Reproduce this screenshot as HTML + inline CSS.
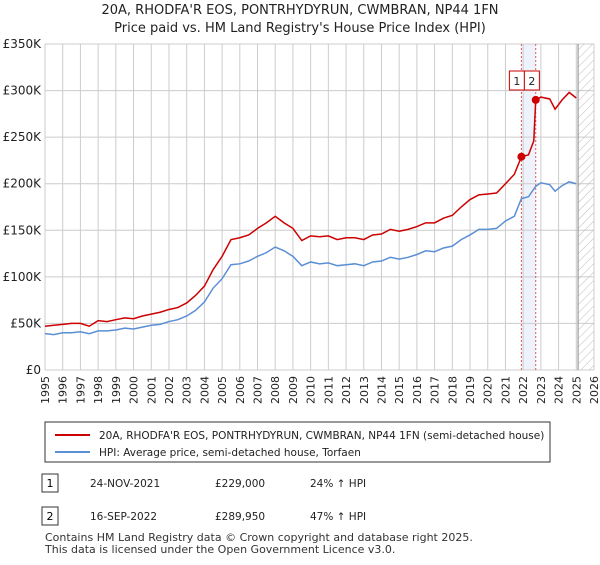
<!DOCTYPE html>
<html><head><meta charset="utf-8"><style>
body{margin:0;background:#fff;font-family:"Liberation Sans","DejaVu Sans",sans-serif;}
svg text{font-family:"DejaVu Sans","Liberation Sans",sans-serif;}
</style></head><body>
<svg id="c" width="600" height="560" xmlns="http://www.w3.org/2000/svg">
<defs><pattern id="hatch" width="6" height="6" patternUnits="userSpaceOnUse" patternTransform="rotate(45)"><line x1="0" y1="0" x2="0" y2="6" stroke="#bbb" stroke-width="1"/></pattern></defs>
<text x="300" y="14" text-anchor="middle" font-size="13" fill="#222">20A, RHODFA'R EOS, PONTRHYDYRUN, CWMBRAN, NP44 1FN</text>
<text x="300" y="32" text-anchor="middle" font-size="13" fill="#222">Price paid vs. HM Land Registry's House Price Index (HPI)</text>
<g id="grid"></g><g id="marks"></g><g id="axes"></g>
<rect x="45" y="422" width="505" height="40" fill="#fff" stroke="#333"/>
<line x1="55" y1="435" x2="90" y2="435" stroke="#cc0000" stroke-width="2"/>
<text x="99" y="439" font-size="10.5" fill="#222">20A, RHODFA'R EOS, PONTRHYDYRUN, CWMBRAN, NP44 1FN (semi-detached house)</text>
<line x1="55" y1="452" x2="90" y2="452" stroke="#5b8fd4" stroke-width="2"/>
<text x="99" y="456" font-size="10.5" fill="#222">HPI: Average price, semi-detached house, Torfaen</text>
<rect x="42" y="474" width="16" height="18" fill="#fff" stroke="#333"/>
<text x="50" y="487" font-size="11" text-anchor="middle">1</text>
<text x="90" y="487" font-size="10.5" fill="#222">24-NOV-2021</text>
<text x="215" y="487" font-size="10.5" fill="#222">£229,000</text>
<text x="310" y="487" font-size="10.5" fill="#222">24% ↑ HPI</text>
<rect x="42" y="507" width="16" height="18" fill="#fff" stroke="#333"/>
<text x="50" y="520" font-size="11" text-anchor="middle">2</text>
<text x="90" y="520" font-size="10.5" fill="#222">16-SEP-2022</text>
<text x="215" y="520" font-size="10.5" fill="#222">£289,950</text>
<text x="310" y="520" font-size="10.5" fill="#222">47% ↑ HPI</text>
<text x="45" y="541" font-size="11" fill="#333">Contains HM Land Registry data © Crown copyright and database right 2025.</text>
<text x="45" y="553" font-size="11" fill="#333">This data is licensed under the Open Government Licence v3.0.</text>
</svg>
<script>
const years=[1995,1995.5,1996,1996.5,1997,1997.5,1998,1998.5,1999,1999.5,2000,2000.5,2001,2001.5,2002,2002.5,2003,2003.5,2004,2004.5,2005,2005.5,2006,2006.5,2007,2007.5,2008,2008.5,2009,2009.5,2010,2010.5,2011,2011.5,2012,2012.5,2013,2013.5,2014,2014.5,2015,2015.5,2016,2016.5,2017,2017.5,2018,2018.5,2019,2019.5,2020,2020.5,2021,2021.5,2021.9,2022.3,2022.7,2023,2023.5,2023.8,2024.2,2024.6,2025.0];
const hpi=[39,38,40,40,41,39,42,42,43,45,44,46,48,49,52,54,58,64,73,88,98,113,114,117,122,126,132,128,122,112,116,114,115,112,113,114,112,116,117,121,119,121,124,128,127,131,133,140,145,151,151,152,160,165,184,186,197,201,199,192,198,202,200];
const redYears=[1995,1995.5,1996,1996.5,1997,1997.5,1998,1998.5,1999,1999.5,2000,2000.5,2001,2001.5,2002,2002.5,2003,2003.5,2004,2004.5,2005,2005.5,2006,2006.5,2007,2007.5,2008,2008.5,2009,2009.5,2010,2010.5,2011,2011.5,2012,2012.5,2013,2013.5,2014,2014.5,2015,2015.5,2016,2016.5,2017,2017.5,2018,2018.5,2019,2019.5,2020,2020.5,2021,2021.5,2021.9,2022.3,2022.6,2022.71,2023,2023.5,2023.8,2024.2,2024.6,2025.0];
const red=[47,48,49,50,50,47,53,52,54,56,55,58,60,62,65,67,72,80,90,108,122,140,142,145,152,158,165,158,152,139,144,143,144,140,142,142,140,145,146,151,149,151,154,158,158,163,166,175,183,188,189,190,200,210,229,231,246,290,293,291,280,290,298,292];
const saleYears=[2021.9,2022.71];
const salePrices=[229,289.95];
const saleLabels=["1","2"];
const yTicks=[0,50,100,150,200,250,300,350];
const yTickLabels=["£0","£50K","£100K","£150K","£200K","£250K","£300K","£350K"];
const xTicks=[1995,1996,1997,1998,1999,2000,2001,2002,2003,2004,2005,2006,2007,2008,2009,2010,2011,2012,2013,2014,2015,2016,2017,2018,2019,2020,2021,2022,2023,2024,2025,2026];

const NS="http://www.w3.org/2000/svg";
const X0=45,X1=594,Y0=370,Y1=44;
const xs=v=>X0+(v-1995)/(2026-1995)*(X1-X0);
const ys=v=>Y0-v/350*(Y0-Y1);
function mk(tag,attrs,parent,txt){const e=document.createElementNS(NS,tag);for(const k in attrs)e.setAttribute(k,attrs[k]);if(txt!==undefined)e.textContent=txt;parent.appendChild(e);return e;}
const grid=document.getElementById('grid'),marks=document.getElementById('marks'),axes=document.getElementById('axes');
const bg=mk('rect',{x:X0,y:Y1,width:X1-X0,height:Y0-Y1,fill:'#fff'},grid);


const shade=mk('rect',{x:xs(saleYears[0]),y:Y1,width:xs(saleYears[1])-xs(saleYears[0]),height:Y0-Y1,fill:'#eef3fb'},grid);


xTicks.forEach(t=>{const l=mk('line',{x1:xs(t),x2:xs(t),y1:Y1,y2:Y0,stroke:'#ccc'},grid);


const tx=mk('text',{x:0,y:0,'font-size':11,fill:'#222','text-anchor':'end',transform:`translate(${xs(t)+4},${Y0+6}) rotate(-90)`},axes,String(t));

});
yTicks.forEach((t,i)=>{const l=mk('line',{x1:X0,x2:X1,y1:ys(t),y2:ys(t),stroke:'#ccc'},grid);


const tx=mk('text',{x:X0-4,y:ys(t)+4,'font-size':12,fill:'#222','text-anchor':'end'},axes,yTickLabels[i]);

});
const hx=xs(2025.1);
const hat=mk('rect',{x:hx,y:Y1,width:X1-hx,height:Y0-Y1,fill:'url(#hatch)'},grid);


const hl=mk('line',{x1:hx,x2:hx,y1:Y1,y2:Y0,stroke:'#888','stroke-width':1},grid);


saleYears.forEach((s,i)=>{const l=mk('line',{x1:xs(s),x2:xs(s),y1:Y1,y2:Y0,stroke:'#e05555','stroke-dasharray':'2,2'},grid);

});
const hp=mk('polyline',{points:years.map((y,i)=>xs(y)+','+ys(hpi[i])).join(' '),fill:'none',stroke:'#5b8fd4','stroke-width':1.5},marks);


const rp=mk('polyline',{points:redYears.map((y,i)=>xs(y)+','+ys(red[i])).join(' '),fill:'none',stroke:'#cc0000','stroke-width':1.5},marks);


const boxBase=xs(saleYears[0])-12;
saleYears.forEach((s,i)=>{const c=mk('circle',{cx:xs(s),cy:ys(salePrices[i]),r:4,fill:'#cc0000'},marks);


const bx=boxBase+i*15;
const b=mk('rect',{x:bx,y:71,width:15,height:19,fill:'#fff',stroke:'#cc0000'},marks);


const t=mk('text',{x:bx+7.5,y:85,'font-size':11,'text-anchor':'middle',fill:'#222'},marks,saleLabels[i]);

});
</script>
</body></html>
